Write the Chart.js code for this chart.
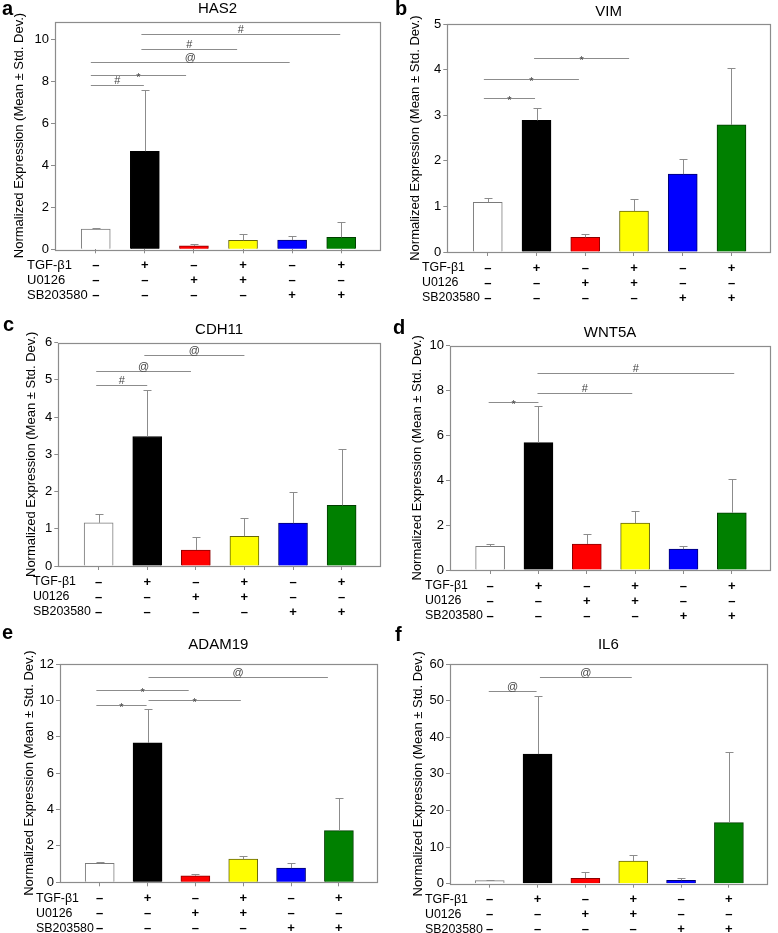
<!DOCTYPE html>
<html>
<head>
<meta charset="utf-8">
<script src="https://cdn.jsdelivr.net/npm/chart.js@4.4.1/dist/chart.umd.min.js"></script>
<style>
  html, body { margin: 0; padding: 0; background: #fff; }
  #fig { position: relative; width: 778px; height: 933px; overflow: hidden; }
  #fig canvas { position: absolute; }
</style>
</head>
<body>
<div id="fig">
  <canvas id="pa" width="390" height="330" style="left:0;top:0"></canvas>
  <canvas id="pb" width="388" height="330" style="left:390px;top:0"></canvas>
  <canvas id="pc" width="390" height="330" style="left:0;top:310px"></canvas>
  <canvas id="pd" width="388" height="330" style="left:390px;top:310px"></canvas>
  <canvas id="pe" width="390" height="330" style="left:0;top:615px"></canvas>
  <canvas id="pf" width="388" height="330" style="left:390px;top:615px"></canvas>
</div>
<script>
// treatment table under every panel
const tgf = ["–", "+", "–", "+", "–", "+"];
const u0126 = ["–", "–", "+", "+", "–", "–"];
const sb203580 = ["–", "–", "–", "–", "+", "+"];
const rowNames = ["TGF-β1", "U0126", "SB203580"];
const groups = [0, 1, 2, 3, 4, 5];

// mean, SD and significance bars [from, to, level, mark] per gene
const has2Mean = [0.96, 4.67, 0.16, 0.43, 0.44, 0.57];
const has2Sd = [0.06, 2.94, 0.08, 0.28, 0.2, 0.71];
const has2Sig = [[-0.1, 0.98, 7.82, "#"], [-0.1, 1.84, 8.31, "*"], [-0.1, 3.95, 8.93, "@"], [0.93, 2.88, 9.54, "#"], [0.93, 4.98, 10.27, "#"]];

const vimMean = [1.09, 2.89, 0.32, 0.9, 1.71, 2.79];
const vimSd = [0.1, 0.28, 0.07, 0.26, 0.34, 1.25];
const vimSig = [[-0.08, 0.97, 3.39, "*"], [-0.08, 1.87, 3.79, "*"], [0.95, 2.9, 4.26, "*"]];

const cdh11Mean = [1.16, 3.48, 0.43, 0.8, 1.15, 1.63];
const cdh11Sd = [0.23, 1.26, 0.35, 0.48, 0.83, 1.52];
const cdh11Sig = [[-0.05, 1.0, 4.86, "#"], [-0.05, 1.9, 5.23, "@"], [0.94, 3.0, 5.66, "@"]];

const wnt5aMean = [1.05, 5.68, 1.16, 2.09, 0.93, 2.55];
const wnt5aSd = [0.1, 1.63, 0.44, 0.56, 0.12, 1.5];
const wnt5aSig = [[-0.03, 1.0, 7.5, "*"], [0.98, 2.94, 7.9, "#"], [0.98, 5.05, 8.8, "#"]];

const adam19Mean = [1.04, 7.66, 0.36, 1.27, 0.78, 2.84];
const adam19Sd = [0.1, 1.88, 0.12, 0.2, 0.3, 1.8];
const adam19Sig = [[-0.07, 0.98, 9.74, "*"], [-0.07, 1.86, 10.57, "*"], [1.02, 2.95, 10.02, "*"], [1.02, 4.77, 11.26, "@"]];

const il6Mean = [0.85, 35.4, 1.5, 6.2, 0.95, 16.7];
const il6Sd = [0.25, 15.8, 1.7, 1.7, 0.6, 19.2];
const il6Sig = [[-0.02, 0.98, 52.5, "@"], [1.05, 2.97, 56.5, "@"]];

const barFill = ["#ffffff", "#000000", "#ff0000", "#ffff00", "#0000ff", "#008000"];
const barEdge = ["#7a7a7a", "#000000", "#8b0000", "#66660a", "#00006e", "#003d00"];
const AXIS = "#8c8c8c";
const FONT = "'Liberation Sans', Arial, sans-serif";
const CANVAS_H = 330;
const X_AXIS_H = 56;

Chart.defaults.font.family = FONT;
Chart.defaults.color = "#000";

function makePanel(p) {
  const overlay = {
    id: "overlay",
    afterDraw(chart) {
      const { ctx, chartArea: a, scales: { x, y } } = chart;
      ctx.save();
      ctx.strokeStyle = AXIS;
      ctx.lineWidth = 1;

      // error bars (upper half only)
      p.mean.forEach((m, i) => {
        const px = Math.round(x.getPixelForValue(i)) + 0.5;
        const base = y.getPixelForValue(m);
        const top = Math.round(y.getPixelForValue(m + p.sd[i])) + 0.5;
        ctx.beginPath();
        ctx.moveTo(px, base);
        ctx.lineTo(px, top);
        ctx.moveTo(px - 4, top);
        ctx.lineTo(px + 4, top);
        ctx.stroke();
      });

      // significance bars
      ctx.font = "11px " + FONT;
      ctx.fillStyle = "#444";
      ctx.textAlign = "center";
      ctx.textBaseline = "alphabetic";
      p.sig.forEach(([x1, x2, lvl, mark]) => {
        const a1 = x.getPixelForValue(x1);
        const a2 = x.getPixelForValue(x2);
        const ly = Math.round(y.getPixelForValue(lvl)) + 0.5;
        ctx.beginPath();
        ctx.moveTo(a1, ly);
        ctx.lineTo(a2, ly);
        ctx.stroke();
        ctx.fillText(mark, (a1 + a2) / 2, ly + (mark === "*" ? 5 : -2));
      });

      // frame
      ctx.lineWidth = 1.2;
      ctx.strokeRect(Math.round(a.left) + 0.5, Math.round(a.top) + 0.5,
        Math.round(a.right - a.left), Math.round(a.bottom - a.top));

      // gene title
      ctx.fillStyle = "#000";
      ctx.font = "15px " + FONT;
      ctx.textBaseline = "middle";
      ctx.fillText(p.gene, (a.left + a.right) / 2, a.top - p.titleGap);

      // panel letter
      ctx.font = "bold 20px " + FONT;
      ctx.textAlign = "left";
      ctx.textBaseline = "alphabetic";
      ctx.fillText(p.letter, p.letterX, p.letterY);

      // treatment row names
      ctx.font = p.rowFont + "px " + FONT;
      ctx.textBaseline = "middle";
      rowNames.forEach((name, r) => {
        ctx.fillText(name, p.rowX, a.bottom + 16 + r * 15);
      });
      ctx.restore();
    }
  };

  new Chart(document.getElementById(p.id), {
    type: "bar",
    data: {
      datasets: [{
        data: p.mean.map((v, i) => ({ x: i, y: v })),
        backgroundColor: barFill,
        borderColor: barEdge,
        borderWidth: 1,
        barThickness: 29
      }]
    },
    options: {
      responsive: false,
      animation: false,
      layout: { padding: { left: 0, right: p.padR, top: p.padT, bottom: CANVAS_H - p.bottom - X_AXIS_H } },
      scales: {
        x: {
          type: "linear",
          offset: false,
          min: -0.83,
          max: 5.79,
          afterBuildTicks: (s) => { s.ticks = groups.map((v) => ({ value: v })); },
          afterFit: (s) => { s.height = X_AXIS_H; },
          border: { display: false },
          grid: { offset: false, drawOnChartArea: false, drawTicks: true, tickLength: 4, color: AXIS },
          ticks: {
            autoSkip: false,
            maxRotation: 0,
            padding: 4.5,
            font: { size: 13, weight: "bold", lineHeight: "15px" },
            callback: (v) => [tgf[v], u0126[v], sb203580[v]]
          }
        },
        y: {
          min: 0,
          max: p.yMax,
          afterFit: (s) => { s.width = p.yW; },
          border: { display: false },
          grid: { drawOnChartArea: false, drawTicks: true, tickLength: 4, color: AXIS },
          ticks: { stepSize: p.step, includeBounds: false, padding: 2, font: { size: 13 } },
          title: {
            display: true,
            text: "Normalized Expression (Mean ± Std. Dev.)",
            font: { size: 13 },
            padding: { top: p.yTitlePad, bottom: 0 }
          }
        }
      },
      plugins: { legend: { display: false }, tooltip: { enabled: false } }
    },
    plugins: [overlay]
  });
}

makePanel({ id: "pa", gene: "HAS2", letter: "a", mean: has2Mean, sd: has2Sd, sig: has2Sig,
  yMax: 10.84, step: 2, yW: 55, padR: 10, padT: 21.7, bottom: 249.3, titleGap: 12.7,
  yTitlePad: 11.2, letterX: 2, letterY: 15, rowX: 27, rowFont: 13 });
makePanel({ id: "pb", gene: "VIM", letter: "b", mean: vimMean, sd: vimSd, sig: vimSig,
  yMax: 5, step: 1, yW: 57.3, padR: 8, padT: 24.3, bottom: 252, titleGap: 12.3,
  yTitlePad: 17.9, letterX: 5, letterY: 15, rowX: 32, rowFont: 12.4 });
makePanel({ id: "pc", gene: "CDH11", letter: "c", mean: cdh11Mean, sd: cdh11Sd, sig: cdh11Sig,
  yMax: 6, step: 1, yW: 58.3, padR: 10, padT: 32.7, bottom: 256, titleGap: 12.7,
  yTitlePad: 23.2, letterX: 3, letterY: 21, rowX: 33, rowFont: 12.4 });
makePanel({ id: "pd", gene: "WNT5A", letter: "d", mean: wnt5aMean, sd: wnt5aSd, sig: wnt5aSig,
  yMax: 10, step: 2, yW: 60, padR: 8, padT: 35.7, bottom: 260, titleGap: 12.7,
  yTitlePad: 19.7, letterX: 3, letterY: 24, rowX: 35, rowFont: 12.4 });
makePanel({ id: "pe", gene: "ADAM19", letter: "e", mean: adam19Mean, sd: adam19Sd, sig: adam19Sig,
  yMax: 12, step: 2, yW: 60, padR: 13.3, padT: 49, bottom: 267.3, titleGap: 19,
  yTitlePad: 21.2, letterX: 2, letterY: 24, rowX: 36, rowFont: 12.4 });
makePanel({ id: "pf", gene: "IL6", letter: "f", mean: il6Mean, sd: il6Sd, sig: il6Sig,
  yMax: 60, step: 10, yW: 60, padR: 11.3, padT: 49, bottom: 268.7, titleGap: 19,
  yTitlePad: 20.2, letterX: 5, letterY: 26, rowX: 35, rowFont: 12.4 });
</script>
</body>
</html>
